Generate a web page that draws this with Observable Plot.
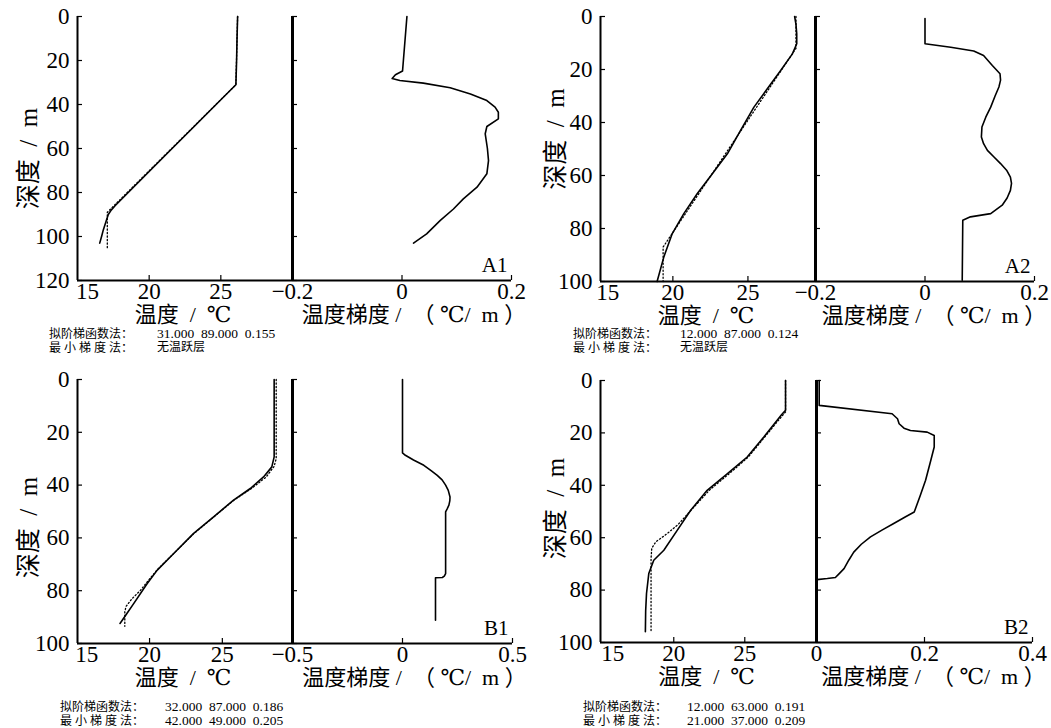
<!DOCTYPE html>
<html>
<head>
<meta charset="utf-8">
<script src="https://cdn.jsdelivr.net/npm/d3@7"></script>
<script src="https://cdn.jsdelivr.net/npm/@observablehq/plot@0.6"></script>
<style>
  body { margin: 0; background: #fff; }
  #root { position: relative; width: 1051px; height: 728px; overflow: hidden; background: #fff; }
  .cap { position: absolute; font-family: "Liberation Serif", "Noto Sans CJK SC", serif; white-space: pre; color: #000; line-height: 1; }
  .lab { font-size: 12px; }
  .val { font-size: 13.5px; }
</style>
</head>
<body>
<div id="root"></div>
<script>
// ---------------- data ----------------
const panelNames = ["A1", "A2", "B1", "B2"];
const tempTicks = [15, 20, 25];
const depthTicksA1 = [0, 20, 40, 60, 80, 100, 120];
const depthTicks = [0, 20, 40, 60, 80, 100];
const gradTicksA = [-0.2, 0, 0.2];
const gradTicksB1 = [-0.5, 0, 0.5];
const gradTicksB2 = [0, 0.2, 0.4];

const depthTitle = "深度  /  m";
const tempTitle = "温度  /  ℃";
const gradTitle = "温度梯度 /  （ ℃/  m ）";
const method1 = "拟阶梯函数法：";
const method2 = "最 小 梯 度 法：";
const fitValues = ["31.000  89.000  0.155", "12.000  87.000  0.124", "32.000  87.000  0.186", "12.000  63.000  0.191"];
const minGradValues = ["无温跃层", "无温跃层", "42.000  49.000  0.205", "21.000  37.000  0.209"];

// A1
const a1Depth = [0, 10, 20, 31, 40, 50, 60, 70, 80, 86, 88, 90, 93, 97, 100, 103];
const a1Temp  = [26.17, 26.13, 26.1, 26.05, 24.67, 23.14, 21.6, 20.07, 18.54, 17.62, 17.35, 17.15, 17.0, 16.8, 16.68, 16.55];
const a1FitDepth = [0, 31, 89, 106];
const a1FitTemp  = [26.17, 26.05, 17.08, 17.08];
const a1GradDepth = [0, 24.8, 26.5, 28.2, 29.1, 30.3, 32.4, 35.2, 38.2, 41.2, 43.5, 46.5, 50, 53.3, 60, 65.5, 71.5, 77.6, 82.9, 87.5, 92.7, 98.8, 103];
const a1Grad      = [0.009, 0.001, -0.012, -0.018, -0.004, 0.039, 0.088, 0.125, 0.155, 0.170, 0.176, 0.176, 0.155, 0.152, 0.156, 0.158, 0.155, 0.137, 0.112, 0.094, 0.070, 0.045, 0.021];

// A2
const a2Depth = [0, 3, 6.5, 10.3, 14.1, 20.4, 27.3, 34.2, 43, 51.8, 59.3, 66.8, 74.4, 81.9, 90.7, 100];
const a2Temp  = [28.11, 28.2, 28.25, 28.25, 27.96, 27.18, 26.29, 25.4, 24.51, 23.63, 22.63, 21.63, 20.73, 19.96, 19.4, 18.95];
const a2FitDepth = [0, 12, 87, 100];
const a2FitTemp  = [28.2, 28.2, 19.35, 19.35];
const a2GradDepth = [0.8, 10.3, 11.6, 13, 14.7, 18.5, 21.6, 24, 26.6, 30, 34.2, 38, 41.7, 45.5, 48, 50.5, 53, 55.5, 58, 60.6, 63, 65.6, 68.5, 71.2, 74.4, 75.6, 76.9, 99.5];
const a2Grad      = [0, 0, 0.047, 0.089, 0.107, 0.123, 0.137, 0.138, 0.135, 0.128, 0.120, 0.111, 0.104, 0.103, 0.107, 0.114, 0.126, 0.138, 0.149, 0.156, 0.158, 0.156, 0.150, 0.141, 0.120, 0.083, 0.069, 0.068];

// B1
const b1Depth = [0, 29.3, 33.1, 36.9, 41.3, 45.7, 52, 58.3, 65.9, 72.2, 77.3, 84.8, 89.3, 92.4];
const b1Temp  = [28.56, 28.56, 28.4, 27.83, 26.92, 25.77, 24.4, 23.03, 21.66, 20.53, 19.84, 18.92, 18.36, 17.97];
const b1FitDepth = [0, 30, 33, 37, 41.3, 45.7, 52, 58.3, 65.9, 72.2, 77.3, 80, 83, 86, 88, 93.5];
const b1FitTemp  = [28.7, 28.7, 28.55, 28.0, 27.0, 25.8, 24.42, 23.05, 21.66, 20.5, 19.75, 19.35, 18.8, 18.38, 18.3, 18.3];
const b1GradDepth = [0, 27.8, 28.7, 30.5, 32.5, 34.5, 36.3, 38, 40, 42, 44.5, 46, 47.6, 49, 50.1, 73.5, 74.5, 75, 75.1, 91.2];
const b1Grad      = [0, 0, 0.013, 0.05, 0.097, 0.13, 0.158, 0.18, 0.196, 0.208, 0.216, 0.215, 0.211, 0.203, 0.196, 0.196, 0.19, 0.181, 0.15, 0.15];

// B2
const b2Depth = [0, 11.4, 13, 15.2, 21.6, 29.2, 35.6, 41.9, 49.6, 57.2, 64.8, 68.6, 73.7, 81.3, 88, 95.9];
const b2Temp  = [27.87, 27.87, 27.6, 27.28, 26.34, 25.17, 23.76, 22.35, 21.18, 20.24, 19.3, 18.59, 18.24, 18.08, 18.02, 18.0];
const b2FitDepth = [0, 12, 15, 21.6, 29.2, 35.6, 41.9, 49.6, 55, 59, 61.5, 64, 68, 96];
const b2FitTemp  = [27.87, 27.87, 27.4, 26.4, 25.25, 23.9, 22.5, 21.2, 20.3, 19.4, 18.75, 18.45, 18.4, 18.4];
const b2GradDepth = [0, 9.5, 12.7, 14.6, 16.5, 18.2, 19.1, 19.7, 21, 25.4, 31, 38.1, 44, 50.2, 52, 54.6, 57, 59.7, 62.5, 65.5, 68.5, 71.8, 73.5, 75.2, 75.6, 76];
const b2Grad      = [0.005, 0.005, 0.140, 0.150, 0.153, 0.162, 0.174, 0.205, 0.218, 0.218, 0.211, 0.202, 0.192, 0.181, 0.165, 0.143, 0.122, 0.100, 0.083, 0.069, 0.060, 0.051, 0.043, 0.035, 0.020, 0.001];

// ---------------- layout ----------------
const panels = [
  {name: panelNames[0], left: 77, mid: 292, right: 511, top: 16, bottom: 280,
   tDomain: [15, 30], dDomain: [0, 120], dTicks: depthTicksA1, gDomain: [-0.2, 0.2], gTicks: gradTicksA,
   depth: a1Depth, temp: a1Temp, fitDepth: a1FitDepth, fitTemp: a1FitTemp, gradDepth: a1GradDepth, grad: a1Grad,
   titleDx: -49, titleDy: 10, gTitleDx: 12, capX: 49, capX2: 157, capY: 328, fit: fitValues[0], minG: minGradValues[0]},
  {name: panelNames[1], left: 600, mid: 815, right: 1034, top: 16, bottom: 281,
   tDomain: [15.18, 29.5], dDomain: [0, 100], dTicks: depthTicks, gDomain: [-0.2, 0.2], gTicks: gradTicksA,
   depth: a2Depth, temp: a2Temp, fitDepth: a2FitDepth, fitTemp: a2FitTemp, gradDepth: a2GradDepth, grad: a2Grad,
   titleDx: -45, titleDy: -10, gTitleDx: 9, capX: 573, capX2: 680, capY: 328, fit: fitValues[1], minG: minGradValues[1]},
  {name: panelNames[2], left: 77, mid: 292, right: 512, top: 379, bottom: 643,
   tDomain: [15.05, 29.82], dDomain: [0, 100], dTicks: depthTicks, gDomain: [-0.5, 0.5], gTicks: gradTicksB1,
   depth: b1Depth, temp: b1Temp, fitDepth: b1FitDepth, fitTemp: b1FitTemp, gradDepth: b1GradDepth, grad: b1Grad,
   titleDx: -49, titleDy: 16, gTitleDx: 12, capX: 60, capX2: 165, capY: 701, fit: fitValues[2], minG: minGradValues[2]},
  {name: panelNames[3], left: 600, mid: 816, right: 1032, top: 380, bottom: 642,
   tDomain: [14.84, 30.05], dDomain: [0, 100], dTicks: depthTicks, gDomain: [0, 0.4], gTicks: gradTicksB2,
   depth: b2Depth, temp: b2Temp, fitDepth: b2FitDepth, fitTemp: b2FitTemp, gradDepth: b2GradDepth, grad: b2Grad,
   titleDx: -45, titleDy: -3, gTitleDx: 9, capX: 583, capX2: 687, capY: 701, fit: fitValues[3], minG: minGradValues[3]}
];

const SERIF = '"Liberation Serif", "DejaVu Serif", "Noto Sans CJK SC", serif';
const root = document.getElementById("root");
const fmtGrad = d => d === 0 ? "0" : (d < 0 ? "\u2212" : "") + Math.abs(d);
const FS = 23;

function place(svg, x, y) {
  svg.style.position = "absolute";
  svg.style.left = x + "px";
  svg.style.top = y + "px";
  svg.style.maxWidth = "none";
  svg.style.background = "none";
  svg.style.overflow = "visible";
  root.appendChild(svg);
}

function tempPlot(p) {
  const mL = 90, mR = 0, mT = 14, mB = 70;
  const w = p.mid - p.left, h = p.bottom - p.top;
  const meas = p.depth.map((d, i) => ({d, t: p.temp[i]}));
  const fit = p.fitDepth.map((d, i) => ({d, t: p.fitTemp[i]}));
  const svg = Plot.plot({
    width: mL + w + mR, height: mT + h + mB,
    marginLeft: mL, marginRight: mR, marginTop: mT, marginBottom: mB,
    style: {background: "none", overflow: "visible", fontFamily: SERIF, color: "#000"},
    x: {domain: p.tDomain},
    y: {domain: p.dDomain, reverse: true},
    marks: [
      Plot.axisY({ticks: p.dTicks, tickSize: -5, tickFormat: () => "", label: null, strokeWidth: 1.2}),
      Plot.axisX({ticks: tempTicks.slice(1), tickSize: -5, tickFormat: () => "", label: null, strokeWidth: 1.2}),
      Plot.text(p.dTicks, {y: d => d, text: d => String(d), frameAnchor: "left", textAnchor: "end", lineAnchor: "middle", dx: -8, fontSize: FS, fontFamily: SERIF}),
      Plot.text(tempTicks.slice(0, 1), {x: d => d, text: d => String(d), frameAnchor: "bottom", textAnchor: "middle", lineAnchor: "top", dy: 2, dx: 10, fontSize: FS, fontFamily: SERIF}),
      Plot.text(tempTicks.slice(1), {x: d => d, text: d => String(d), frameAnchor: "bottom", textAnchor: "middle", lineAnchor: "top", dy: 2, fontSize: FS, fontFamily: SERIF}),
      Plot.ruleX([p.tDomain[0]], {strokeWidth: 2}),
      Plot.ruleY([p.dDomain[1]], {strokeWidth: 2}),
      Plot.line(fit, {x: "t", y: "d", strokeWidth: 1.3, strokeDasharray: "1.2,2.3"}),
      Plot.line(meas, {x: "t", y: "d", strokeWidth: 1.6}),
      Plot.text([depthTitle], {text: d => d, frameAnchor: "left", textAnchor: "middle", lineAnchor: "middle", rotate: -90, dx: p.titleDx, dy: p.titleDy, fontSize: 25, fontFamily: SERIF}),
      Plot.text([tempTitle], {text: d => d, frameAnchor: "bottom", textAnchor: "middle", lineAnchor: "middle", dy: 34, dx: -2, fontSize: 22, fontFamily: SERIF})
    ]
  });
  place(svg, p.left - mL, p.top - mT);
}

function gradPlot(p) {
  const mL = 45, mR = 45, mT = 14, mB = 70;
  const w = p.right - p.mid, h = p.bottom - p.top;
  const g = p.gradDepth.map((d, i) => ({d, g: p.grad[i]}));
  const svg = Plot.plot({
    width: mL + w + mR, height: mT + h + mB,
    marginLeft: mL, marginRight: mR, marginTop: mT, marginBottom: mB,
    style: {background: "none", overflow: "visible", fontFamily: SERIF, color: "#000"},
    x: {domain: p.gDomain},
    y: {domain: p.dDomain, reverse: true},
    marks: [
      Plot.axisY({ticks: p.dTicks, tickSize: -5, tickFormat: () => "", label: null, strokeWidth: 1.2}),
      Plot.axisX({ticks: p.gTicks, tickSize: -5, tickFormat: () => "", label: null, strokeWidth: 1.2}),
      Plot.text(p.gTicks, {x: d => d, text: fmtGrad, frameAnchor: "bottom", textAnchor: "middle", lineAnchor: "top", dy: 2, fontSize: FS, fontFamily: SERIF}),
      Plot.ruleX([p.gDomain[0]], {strokeWidth: 3}),
      Plot.ruleY([p.dDomain[1]], {strokeWidth: 2}),
      Plot.line(g, {x: "g", y: "d", strokeWidth: 1.6}),
      Plot.text([p.name], {text: d => d, frameAnchor: "bottom-right", lineAnchor: "middle", textAnchor: "end", dx: -4, dy: -15, fontSize: 21, fontFamily: SERIF}),
      Plot.text([gradTitle], {text: d => d, frameAnchor: "bottom", textAnchor: "middle", lineAnchor: "middle", dy: 34, dx: p.gTitleDx, fontSize: 22, fontFamily: SERIF})
    ]
  });
  place(svg, p.mid - mL, p.top - mT);
}

function caption(p) {
  const rows = [[method1, p.fit, p.capY], [method2, p.minG, p.capY + 14]];
  for (const [lab, val, y] of rows) {
    const a = document.createElement("div");
    a.className = "cap lab"; a.textContent = lab;
    a.style.left = p.capX + "px"; a.style.top = y + "px";
    root.appendChild(a);
    const b = document.createElement("div");
    b.className = "cap " + (/^[0-9]/.test(val) ? "val" : "lab"); b.textContent = val;
    b.style.left = p.capX2 + "px"; b.style.top = (y - 1) + "px";
    root.appendChild(b);
  }
}

for (const p of panels) {
  tempPlot(p);
  gradPlot(p);
  caption(p);
}
</script>
</body>
</html>
